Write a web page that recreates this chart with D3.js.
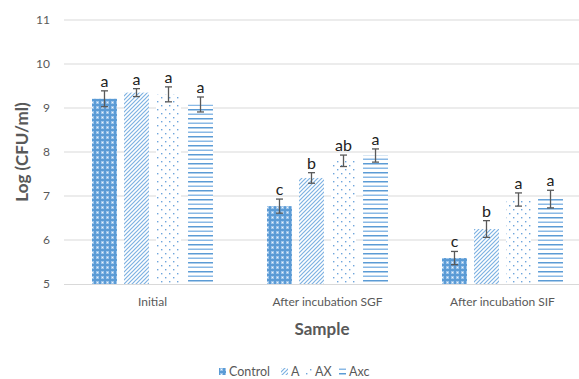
<!DOCTYPE html>
<html>
<head>
<meta charset="utf-8">
<script src="https://cdn.jsdelivr.net/npm/d3@7"></script>
<style>
  body { margin: 0; background: #fff; }
  text { font-family: Lato, "Open Sans", "Liberation Sans", sans-serif; }
</style>
</head>
<body>
<div id="chart"></div>
<script>
const categories = ["Initial", "After incubation SGF", "After incubation SIF"];
const series = ["Control", "A", "AX", "Axc"];
// mean values per series, in category order
const control = [9.21, 6.77, 5.59];
const seriesA = [9.35, 7.41, 6.25];
const seriesAX = [9.31, 7.80, 6.92];
const seriesAxc = [9.08, 7.92, 6.93];
// error bars (+/-)
const errControl = [0.18, 0.16, 0.15];
const errA = [0.09, 0.12, 0.19];
const errAX = [0.17, 0.13, 0.15];
const errAxc = [0.17, 0.15, 0.2];
// significance letters
const lettersControl = ["a", "c", "c"];
const lettersA = ["a", "b", "b"];
const lettersAX = ["a", "ab", "a"];
const lettersAxc = ["a", "a", "a"];
const yTicks = [5, 6, 7, 8, 9, 10, 11];

const width = 579, height = 379;
const values = [control, seriesA, seriesAX, seriesAxc];
const errs = [errControl, errA, errAX, errAxc];
const letters = [lettersControl, lettersA, lettersAX, lettersAxc];

const data = [];
categories.forEach((c, ci) => series.forEach((s, si) => data.push({
  cat: c, ser: s, value: values[si][ci], err: errs[si][ci], letter: letters[si][ci]
})));

const svg = d3.select("#chart").append("svg")
  .attr("width", width).attr("height", height);

// fill patterns
const defs = svg.append("defs");

let p = defs.append("pattern").attr("id", "p-Control")
  .attr("patternUnits", "userSpaceOnUse").attr("width", 5).attr("height", 5);
p.append("rect").attr("width", 5).attr("height", 5).attr("fill", "#5b9bd5");
p.append("rect").attr("x", 1).attr("y", 1).attr("width", 3).attr("height", 3).attr("fill", "#9cc4ea");
p.append("rect").attr("x", 2).attr("y", 2).attr("width", 1).attr("height", 1).attr("fill", "#eef5fc");

p = defs.append("pattern").attr("id", "p-A")
  .attr("patternUnits", "userSpaceOnUse").attr("width", 4).attr("height", 4);
p.append("rect").attr("width", 4).attr("height", 4).attr("fill", "#fff");
p.append("path").attr("d", "M-1,1 L1,-1 M0,4 L4,0 M3,5 L5,3")
  .attr("stroke", "#7db1e2").attr("stroke-width", 1.2);

p = defs.append("pattern").attr("id", "p-AX")
  .attr("patternUnits", "userSpaceOnUse").attr("width", 8).attr("height", 8);
p.append("rect").attr("width", 8).attr("height", 8).attr("fill", "#fff");
[[1, 1], [5, 5]].forEach(([x, y]) =>
  p.append("rect").attr("x", x).attr("y", y).attr("width", 1.4).attr("height", 1.4).attr("fill", "#6ea5dc"));

p = defs.append("pattern").attr("id", "p-Axc")
  .attr("patternUnits", "userSpaceOnUse").attr("width", 8).attr("height", 9);
p.append("rect").attr("width", 8).attr("height", 9).attr("fill", "#fff");
p.append("rect").attr("y", 1).attr("width", 8).attr("height", 1.5).attr("fill", "#5b9bd5");
p.append("rect").attr("y", 5.5).attr("width", 8).attr("height", 1.5).attr("fill", "#8ab9e6");

const y = d3.scaleLinear().domain([5, 11]).range([284, 20]);
const x0 = d3.scaleBand().domain(categories).range([65, 590]);
const x1 = d3.scaleBand().domain(series).range([27, 148]).paddingInner(0.22).paddingOuter(0);

// gridlines
svg.append("g").selectAll("line").data(yTicks.slice(1)).join("line")
  .attr("x1", 64).attr("x2", width)
  .attr("y1", d => y(d)).attr("y2", d => y(d))
  .attr("stroke", "#d9d9d9").attr("stroke-width", 1);

// y tick labels
svg.append("g").selectAll("text").data(yTicks).join("text")
  .attr("x", 50).attr("y", d => y(d)).attr("dy", "0.35em")
  .attr("text-anchor", "end").attr("font-size", 12).attr("fill", "#595959")
  .text(d => d);

// bars
const bx = d => x0(d.cat) + x1(d.ser);
svg.append("g").selectAll("rect").data(data).join("rect")
  .attr("x", bx).attr("width", x1.bandwidth())
  .attr("y", d => y(d.value)).attr("height", d => y(5) - y(d.value))
  .attr("fill", d => `url(#p-${d.ser})`);

// x axis line
svg.append("line").attr("x1", 64).attr("x2", width)
  .attr("y1", y(5) + 0.5).attr("y2", y(5) + 0.5)
  .attr("stroke", "#d9d9d9").attr("stroke-width", 1);

// error bars
const eb = svg.append("g").attr("stroke", "#595959").attr("stroke-width", 1.3);
const cx = d => bx(d) + x1.bandwidth() / 2;
eb.selectAll(".v").data(data).join("line").attr("class", "v")
  .attr("x1", cx).attr("x2", cx)
  .attr("y1", d => y(d.value + d.err)).attr("y2", d => y(d.value - d.err));
eb.selectAll(".t").data(data).join("line").attr("class", "t")
  .attr("x1", d => cx(d) - 3.5).attr("x2", d => cx(d) + 3.5)
  .attr("y1", d => y(d.value + d.err)).attr("y2", d => y(d.value + d.err));
eb.selectAll(".b").data(data).join("line").attr("class", "b")
  .attr("x1", d => cx(d) - 3.5).attr("x2", d => cx(d) + 3.5)
  .attr("y1", d => y(d.value - d.err)).attr("y2", d => y(d.value - d.err));

// letters
svg.append("g").selectAll("text").data(data).join("text")
  .attr("x", cx).attr("y", d => y(d.value + d.err) - 4)
  .attr("text-anchor", "middle").attr("font-size", 16).attr("fill", "#222")
  .text(d => d.letter);

// category labels
svg.append("g").selectAll("text").data(categories).join("text")
  .attr("x", d => x0(d) + 87.5).attr("y", 306)
  .attr("text-anchor", "middle").attr("font-size", 12).attr("fill", "#595959")
  .text(d => d);

// axis titles
svg.append("text").attr("x", 322).attr("y", 335)
  .attr("text-anchor", "middle").attr("font-size", 17).attr("font-weight", "bold")
  .attr("fill", "#595959").text("Sample");
svg.append("text").attr("transform", "translate(28,152) rotate(-90)")
  .attr("text-anchor", "middle").attr("font-size", 17).attr("font-weight", "bold")
  .attr("fill", "#595959").text("Log (CFU/ml)");

// legend
const legX = [219, 281, 305, 339];
const leg = svg.append("g").selectAll("g").data(series).join("g")
  .attr("transform", (d, i) => `translate(${legX[i]},372)`);
leg.append("rect").attr("x", 0).attr("y", -4).attr("width", 7).attr("height", 7)
  .attr("fill", d => `url(#p-${d})`);
leg.append("text").attr("x", 10).attr("y", 0).attr("dy", "0.35em")
  .attr("font-size", 12.5).attr("fill", "#595959").text(d => d);
</script>
</body>
</html>
